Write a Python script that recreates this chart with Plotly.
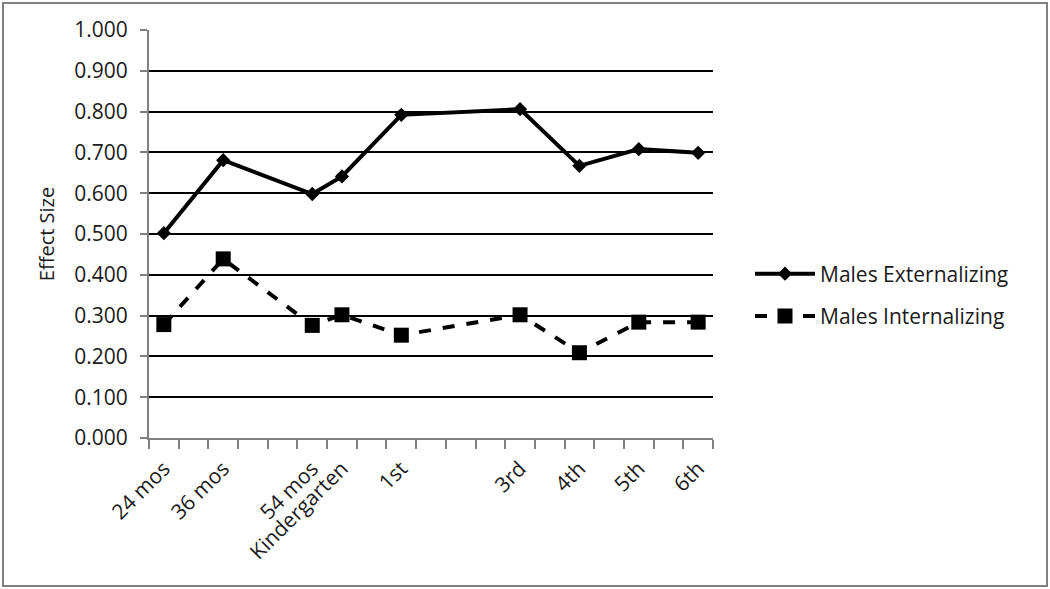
import plotly.graph_objects as go

# grade points placed on a month scale (Excel category axis, 6 month steps)
MONTHS = [24, 36, 54, 60, 72, 96, 108, 120, 132]
LABELS = ['24 mos', '36 mos', '54 mos', 'Kindergarten', '1st', '3rd', '4th', '5th', '6th']
EXTERNALIZING = [0.502, 0.681, 0.598, 0.641, 0.792, 0.806, 0.667, 0.708, 0.699]
INTERNALIZING = [0.278, 0.439, 0.276, 0.302, 0.252, 0.302, 0.209, 0.284, 0.284]
Y_TICKS = [0.0, 0.1, 0.2, 0.3, 0.4, 0.5, 0.6, 0.7, 0.8, 0.9, 1.0]

W, H = 1050, 589
L, R, T, B = 149, 337, 30, 151
FONT = 'Open Sans'

fig = go.Figure()
fig.add_trace(go.Scatter(x=MONTHS, y=EXTERNALIZING, name='Males Externalizing', mode='lines+markers',
                         line=dict(color='black', width=4),
                         marker=dict(symbol='diamond', size=11, color='black'),
                         legendgroup='a'))
fig.add_trace(go.Scatter(x=MONTHS, y=INTERNALIZING, name='Males Internalizing', mode='lines+markers',
                         line=dict(color='black', width=4, dash='dash'),
                         marker=dict(symbol='square', size=15, color='black'),
                         legendgroup='b'))

pw = W - L - R
ph = H - T - B


def px_x(p):
    return (p - L) / pw


def px_y(p):
    return (H - B - p) / ph


# outer chart border
fig.add_shape(type='rect', xref='paper', yref='paper',
              x0=px_x(3), x1=px_x(W - 3), y0=px_y(H - 3), y1=px_y(3),
              line=dict(color='#808080', width=2))

fig.update_layout(
    width=W, height=H,
    margin=dict(l=L, r=R, t=T, b=B),
    paper_bgcolor='white', plot_bgcolor='white',
    font=dict(family=FONT, size=21, color='#1a1a1a'),
    showlegend=True,
    legend=dict(x=px_x(750), y=px_y(295), xanchor='left', yanchor='middle',
                traceorder='grouped', tracegroupgap=12, font=dict(size=21),
                itemwidth=60, bgcolor='rgba(0,0,0,0)'),
    xaxis=dict(range=[21, 135], tickmode='array', tickvals=MONTHS, ticktext=LABELS,
               tickangle=-45, ticks='', ticklabelstandoff=8, showgrid=False, zeroline=False,
               automargin=False, showline=True, linecolor='#808080', linewidth=2,
               minor=dict(tickvals=list(range(21, 136, 6)), ticks='outside', ticklen=9,
                          tickcolor='#808080', tickwidth=2, showgrid=False)),
    yaxis=dict(range=[0, 1], tickmode='array', tickvals=Y_TICKS,
               ticktext=[f'{v:.3f}' for v in Y_TICKS],
               ticks='outside', ticklen=7, tickcolor='#808080', tickwidth=2, ticklabelstandoff=8,
               showgrid=True, gridcolor='black', gridwidth=1.5, zeroline=False, automargin=False,
               showline=True, linecolor='#808080', linewidth=2,
               title=dict(text='Effect Size', font=dict(size=20), standoff=14)),
)

fig.write_html('out.html', config={'displayModeBar': False},
               post_script="document.body.style.margin='0px';")
